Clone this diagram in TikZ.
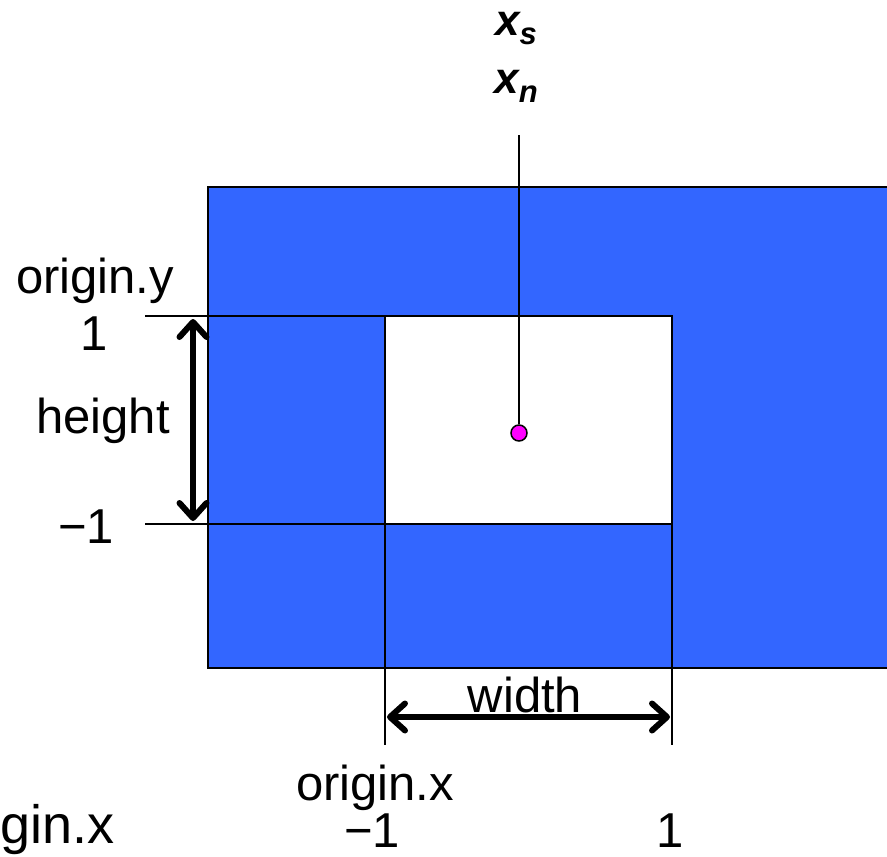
\documentclass[tikz,border=0pt]{standalone}
\usepackage{fontspec}
\setmainfont{Liberation Sans}
\usetikzlibrary{arrows.meta}
\definecolor{fillblue}{HTML}{3366FF}
\definecolor{dotmag}{HTML}{FF00FF}
\begin{document}
\begin{tikzpicture}[x=1pt,y=-1pt,
  lbl/.style={font=\fontsize{49}{58}\selectfont, inner sep=0pt, anchor=base},
  vec/.style={font=\fontsize{44}{52}\selectfont\bfseries\itshape, inner sep=0pt, anchor=base},
  guide/.style={line width=2pt},
  tipb/.tip={Straight Barb[length=15pt,width=27pt,line width=6pt,line cap=round,line join=round]},
  dim/.style={line width=6pt, tipb-tipb},
]
\useasboundingbox (0,0) rectangle (887,857);
\clip (0,0) rectangle (887,857);
% coordinates
\coordinate (bTL) at (208,187);
\coordinate (bBR) at (905,668);
\coordinate (wTL) at (385,316);
\coordinate (wBR) at (672,524);
\coordinate (wTR) at (672,316);
\coordinate (wBL) at (385,524);
\coordinate (yTop) at (145,316);
\coordinate (yBot) at (145,524);
\coordinate (xL) at (385,745);
\coordinate (xR) at (672,745);
\coordinate (hA) at (193,319);
\coordinate (hB) at (193,521);
\coordinate (wA) at (387,717);
\coordinate (wB) at (670,717);
\coordinate (lineTop) at (519,135);
% shapes
\draw[guide, fill=fillblue] (bTL) rectangle (bBR);
\draw[guide, fill=white] (wTL) rectangle (wBR);
\draw[guide] (yTop) -- (wTL);
\draw[guide] (yBot) -- (wBR);
\draw[guide] (wTL) -- (xL);
\draw[guide] (wTR) -- (xR);
\draw[dim] (hA) -- (hB);
\draw[dim] (wA) -- (wB);
\node[circle, draw, line width=1.5pt, fill=dotmag, minimum size=16pt, inner sep=0pt] (dot) at (519,433) {};
\draw[guide] (dot.north) -- (lineTop);
% labels
\node[vec] (xs) at (516,35) {x\raisebox{-9pt}{\fontsize{31}{31}\selectfont s}};
\node[vec] (xn) at (516,93) {x\raisebox{-9pt}{\fontsize{31}{31}\selectfont n}};
\node[lbl] (oy) at (95,293) {origin.y};
\node[lbl] (y1) at (94,350) {1};
\node[lbl] (ht) at (103,433) {height};
\node[lbl] (ym1) at (86,543) {−1};
\node[lbl] (wd) at (525,712) {width};
\node[lbl] (ox) at (375,800) {origin.x};
\node[lbl] (xm1) at (372,847) {−1};
\node[lbl] (x1) at (670,847) {1};
\node[lbl, anchor=base west, font=\fontsize{54}{64}\selectfont] (oxbig) at (0,843) {gin.x};
\end{tikzpicture}
\end{document}
